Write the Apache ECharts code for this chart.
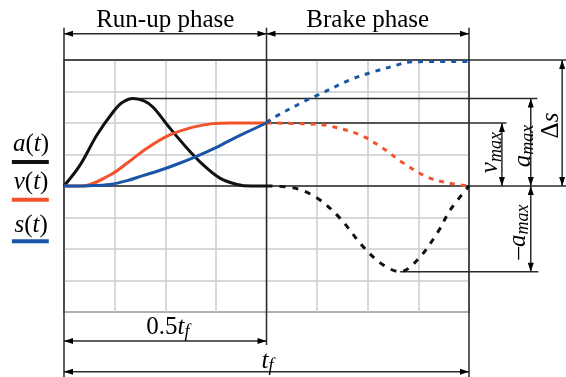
<!DOCTYPE html>
<html>
<head>
<meta charset="utf-8">
<script src="https://cdn.jsdelivr.net/npm/echarts@6/dist/echarts.min.js"></script>
<style>
  html, body { margin: 0; padding: 0; background: #fff; }
</style>
</head>
<body>
<div id="main" style="width: 566px; height: 377px;"></div>
<script>
    // time in grid columns (0..8 = 0..tf), values in grid rows
    var aRunUp = [[0, 0], [0.32, 0.67], [0.65, 1.62], [0.97, 2.35], [1.15, 2.65], [1.36, 2.78], [1.58, 2.7],
        [1.76, 2.5], [2.09, 1.84], [2.43, 1.2], [2.75, 0.67], [3.08, 0.25], [3.42, 0.05], [3.7, 0], [4, 0]];
    var aBrake = [[4, 0], [4.53, -0.06], [5.0, -0.38], [5.45, -1.02], [5.91, -1.93], [6.3, -2.5],
        [6.64, -2.72], [6.98, -2.35], [7.37, -1.5], [7.63, -0.76], [8, 0]];
    var vRunUp = [[0, 0], [0.35, 0], [0.91, 0.35], [1.25, 0.73], [1.64, 1.2], [2.09, 1.62], [2.55, 1.87],
        [2.94, 1.98], [3.3, 2], [4, 2]];
    var vBrake = [[4, 2], [4.86, 1.97], [5.26, 1.9], [5.85, 1.62], [6.3, 1.2], [6.7, 0.73], [7.17, 0.29],
        [7.57, 0.1], [8, 0]];
    var sRunUp = [[0, 0], [0.5, 0.01], [0.91, 0.05], [1.25, 0.17], [1.56, 0.33], [1.9, 0.5], [2.23, 0.69],
        [2.63, 0.95], [3.0, 1.22], [3.22, 1.4], [3.6, 1.7], [4, 2]];
    var sBrake = [[4, 2], [4.13, 2.16], [4.8, 2.73], [5.02, 2.89], [5.65, 3.37], [6.1, 3.62], [6.58, 3.84],
        [6.78, 3.93], [7.2, 3.95], [8, 3.95]];

    var aMax = 2.78, vMax = 2, sMax = 4, aMin = -2.72;

    var BLACK = '#111', RED = '#f2532b', BLUE = '#1b55a6', INK = '#2a2a2a';
    var SERIF = '"Liberation Serif", "DejaVu Serif", serif';

    var myChart = echarts.init(document.getElementById('main'));

    function curve(data, color, dashed, dash) {
        return {
            type: 'line',
            data: data,
            smooth: 0.35,
            symbol: 'none',
            z: 5,
            lineStyle: {color: color, width: 3, type: dashed ? dash : 'solid'}
        };
    }

    var option = {
        animation: false,
        grid: {left: 64, top: 60, width: 405, height: 252, show: true, borderColor: INK, borderWidth: 1.5},
        xAxis: {
            type: 'value', min: 0, max: 8, interval: 1,
            axisLine: {show: false}, axisTick: {show: false}, axisLabel: {show: false},
            splitLine: {lineStyle: {color: '#c9cdd1', width: 1.5}}
        },
        yAxis: {
            type: 'value', min: -4, max: 4, interval: 1,
            axisLine: {show: false}, axisTick: {show: false}, axisLabel: {show: false},
            splitLine: {lineStyle: {color: '#c9cdd1', width: 1.5}}
        },
        series: [
            curve(aRunUp, BLACK, false),
            curve(vRunUp, RED, false),
            curve(sRunUp, BLUE, false),
            curve(aBrake, BLACK, true, [6, 7]),
            curve(vBrake, RED, true, [5, 6]),
            curve(sBrake, BLUE, true, [5, 6])
        ]
    };
    myChart.setOption(option);

    // annotations, positioned in data units of the grid
    function P(x, y) { return myChart.convertToPixel({gridIndex: 0}, [x, y]); }

    var els = [];
    function ln(x1, y1, x2, y2, color, w) {
        var a = P(x1, y1), b = P(x2, y2);
        els.push({type: 'line', z: 1, shape: {x1: a[0], y1: a[1], x2: b[0], y2: b[1]},
            style: {stroke: color || INK, lineWidth: w || 1.5}});
    }
    function head(x, y, dx, dy) {
        var p = P(x, y), L = 9, W = 3;
        var bx = p[0] - dx * L, by = p[1] - dy * L;
        els.push({type: 'polygon', z: 1, shape: {points: [[p[0], p[1]], [bx - dy * W, by + dx * W], [bx + dy * W, by - dx * W]]},
            style: {fill: '#000'}});
    }
    function hArrow(x1, x2, y) { ln(x1, y, x2, y); head(x1, y, -1, 0); head(x2, y, 1, 0); }
    function vArrow(x, y1, y2) { ln(x, y1, x, y2); head(x, y1, 0, -1); head(x, y2, 0, 1); }

    var rich = {
        n: {fontFamily: SERIF, fontSize: 25, color: '#1a1a1a', lineHeight: 28},
        i: {fontFamily: SERIF, fontSize: 25, fontStyle: 'italic', color: '#1a1a1a', lineHeight: 28},
        sub: {fontFamily: SERIF, fontSize: 18, fontStyle: 'italic', color: '#1a1a1a', lineHeight: 18, verticalAlign: 'bottom'}
    };
    function txt(x, y, str, rot) {
        var p = P(x, y);
        els.push({type: 'text', z: 6, x: p[0], y: p[1], rotation: rot || 0,
            style: {text: str, rich: rich, align: 'center', verticalAlign: 'middle'}});
    }

    // frame extensions and guide lines
    ln(0, 5.02, 0, -6.06);
    ln(4, 5.02, 4, -5.05);
    ln(8, 5.02, 8, -6.06);
    ln(0, sMax, 9.92, sMax);
    ln(0, 0, 9.92, 0);
    ln(1.36, aMax, 9.35, aMax);
    ln(4, vMax, 8.74, vMax);
    ln(6.64, aMin, 9.37, aMin);

    // dimension arrows
    hArrow(0, 4, 4.83);
    hArrow(4, 8, 4.83);
    hArrow(0, 4, -4.92);
    hArrow(0, 8, -5.9);
    vArrow(8.65, vMax, 0);
    vArrow(9.22, aMax, 0);
    vArrow(9.84, sMax, 0);
    vArrow(9.22, 0, aMin);

    // texts
    txt(2, 5.25, '{n|Run-up phase}');
    txt(6, 5.25, '{n|Brake phase}');
    txt(2.05, -4.48, '{n|0.5}{i|t}{sub|f}');
    txt(4.02, -5.56, '{i|t}{sub|f}');
    txt(8.43, 1.06, '{i|v}{sub|max}', Math.PI / 2);
    txt(9.07, 1.27, '{i|a}{sub|max}', Math.PI / 2);
    txt(9.62, 1.92, '{n|Δ}{i|s}', Math.PI / 2);
    txt(8.97, -1.46, '{n|–}{i|a}{sub|max}', Math.PI / 2);

    // legend on the left
    var legendNames = ['{i|a}{n|(}{i|t}{n|)}', '{i|v}{n|(}{i|t}{n|)}', '{i|s}{n|(}{i|t}{n|)}'];
    var legendColors = [BLACK, RED, BLUE];
    var legendY = [1.33, 0.1, -1.24];
    var lineY = [0.76, -0.44, -1.75];
    for (var k = 0; k < 3; k++) {
        txt(-0.65, legendY[k], legendNames[k]);
        ln(-1.03, lineY[k], -0.3, lineY[k], legendColors[k], 4);
    }

    myChart.setOption({graphic: {elements: els}});
</script>
</body>
</html>
